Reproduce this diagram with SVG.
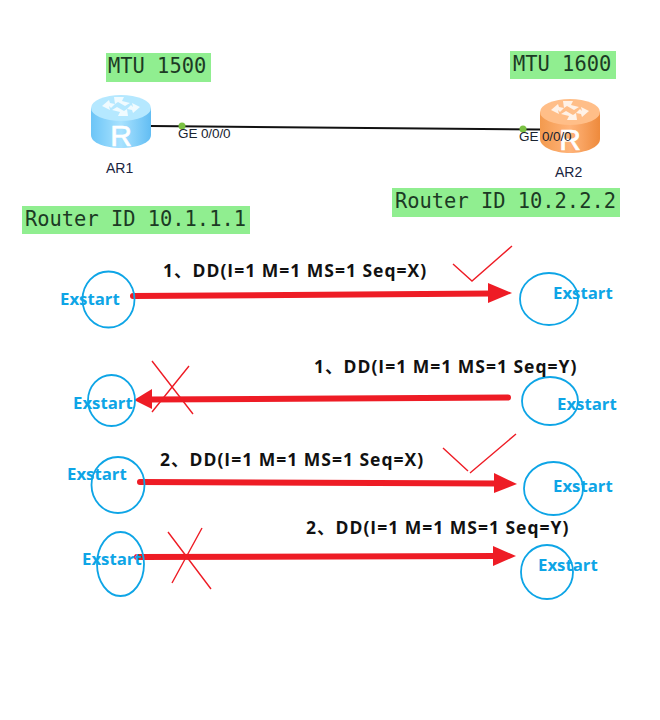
<svg xmlns="http://www.w3.org/2000/svg" width="660" height="720" viewBox="0 0 660 720">
<style>
.mono{font-family:"DejaVu Sans Mono",monospace;font-size:20.4px;fill:#1c3a24}
.tag{fill:#90ee90}
.if{font-family:"Liberation Sans",Arial,sans-serif;font-size:13.5px;letter-spacing:-.1px;fill:#1a2430}
.name{font-family:"Liberation Sans",Arial,sans-serif;font-size:14px;fill:#1a2440}
.dd{font-family:"Open Sans","Noto Sans CJK SC",sans-serif;font-weight:700;font-size:17.5px;letter-spacing:1px;fill:#111}
.st{font-family:"Open Sans","Noto Sans",sans-serif;font-weight:700;font-size:16.8px;fill:#0ea5e6}
.ring{fill:none;stroke:#0ea5e6;stroke-width:1.8}
.arrow{fill:none;stroke:#ee1c25;stroke-width:6;stroke-linecap:round}
.head{fill:#ee1c25}
.mark{fill:none;stroke:#ee1c25;stroke-width:1.4}
.r{font-family:"Liberation Sans",Arial,sans-serif;font-size:30px;fill:#fff;stroke:#fff;stroke-width:.7;text-anchor:middle}
.ico{fill:#fff;opacity:.8}
</style>
<defs>
<linearGradient id="blue" x1="0" x2="1" y1="0" y2="0"><stop offset="0" stop-color="#6cc5f7"/><stop offset=".5" stop-color="#a8e2ff"/><stop offset="1" stop-color="#62bdf3"/></linearGradient>
<linearGradient id="orange" x1="0" x2="1" y1="0" y2="0"><stop offset="0" stop-color="#f39a4e"/><stop offset=".5" stop-color="#ffb47a"/><stop offset="1" stop-color="#ee8a3c"/></linearGradient>
<g id="ico"><path class="ico" d="M-7-16L3-16L1-12L9-10L4-7L-3-11L-6-9ZM7 3L-3 3L-1-1L-9-3L-4-6L3-2L6-4Z"/><path class="ico" d="M-19-7L-12-13L-11-10L-6-9L-10-5L-12-7L-11-3ZM19-6L12 0L11-3L6-4L10-8L12-6L11-10Z"/></g>
</defs>
<g id="links">
<path d="M151 126L540 129.5" fill="none" stroke="#111" stroke-width="2"/>
<path class="arrow" d="M133 296L492 293.5"/><path class="head" d="M512 293L488 283L488 303Z"/>
<path class="arrow" d="M508 397.5L150 399.5"/><path class="head" d="M134 400L152 389L152 409Z"/>
<path class="arrow" d="M140 482L498 483.5"/><path class="head" d="M517 484L494 473L494 493Z"/>
<path class="arrow" d="M137 557L497 556"/><path class="head" d="M516 556L493 546L493 566Z"/>
</g>
<g id="mtu1"><rect class="tag" x="106" y="53" width="105" height="29"/><text class="mono" x="108" y="73">MTU 1500</text></g>
<g id="mtu2"><rect class="tag" x="510" y="51" width="106" height="28"/><text class="mono" x="513" y="71">MTU 1600</text></g>
<g id="rid1"><rect class="tag" x="22" y="206" width="228" height="28"/><text class="mono" x="25" y="226">Router ID 10.1.1.1</text></g>
<g id="rid2"><rect class="tag" x="392" y="188" width="228" height="29"/><text class="mono" x="395" y="208">Router ID 10.2.2.2</text></g>
<g id="AR1">
<path d="M91 108V135C91 143 105 148 121 148S151 143 151 135V108Z" fill="url(#blue)"/>
<ellipse cx="121" cy="108" rx="30" ry="13" fill="#b5e8ff"/>
<use href="#ico" x="121" y="113"/>
<text class="r" x="121" y="146">R</text>
<text class="name" x="106" y="173">AR1</text>
</g>
<g id="AR2">
<path d="M540 112V139C540 147 554 153 570 153S600 147 600 139V112Z" fill="url(#orange)"/>
<ellipse cx="570" cy="112" rx="30" ry="13" fill="#ffbe88"/>
<use href="#ico" x="570" y="117"/>
<text class="r" x="570" y="150">R</text>
<text class="name" x="555" y="177">AR2</text>
</g>
<g id="port1"><circle cx="182" cy="126" r="3.5" fill="#7ac143"/><text class="if" x="178" y="138">GE 0/0/0</text></g>
<g id="port2"><circle cx="523" cy="129" r="3.5" fill="#7ac143"/><text class="if" x="519" y="141">GE 0/0/0</text></g>
<g id="s1l"><ellipse class="ring" cx="108.5" cy="299.5" rx="26" ry="28"/><text class="st" x="60" y="305">Exstart</text></g>
<g id="s1r"><ellipse class="ring" cx="549" cy="299" rx="29" ry="26"/><text class="st" x="553" y="299">Exstart</text></g>
<g id="s2l"><ellipse class="ring" cx="111.5" cy="400.5" rx="23.5" ry="25.5"/><text class="st" x="73" y="409">Exstart</text></g>
<g id="s2r"><ellipse class="ring" cx="550" cy="401" rx="28" ry="24"/><text class="st" x="557" y="410">Exstart</text></g>
<g id="s3l"><ellipse class="ring" cx="118" cy="485" rx="26.5" ry="28"/><text class="st" x="67" y="480">Exstart</text></g>
<g id="s3r"><ellipse class="ring" cx="553.5" cy="488.5" rx="29.5" ry="26.5"/><text class="st" x="553" y="492">Exstart</text></g>
<g id="s4l"><ellipse class="ring" cx="120.5" cy="564" rx="23.5" ry="32"/><text class="st" x="82" y="565">Exstart</text></g>
<g id="s4r"><ellipse class="ring" cx="547" cy="572" rx="26" ry="27"/><text class="st" x="538" y="571">Exstart</text></g>
<g id="labels">
<text class="dd" x="163" y="277">1、DD(I=1 M=1 MS=1 Seq=X)</text>
<text class="dd" x="314" y="373">1、DD(I=1 M=1 MS=1 Seq=Y)</text>
<text class="dd" x="160" y="466">2、DD(I=1 M=1 MS=1 Seq=X)</text>
<text class="dd" x="306" y="534">2、DD(I=1 M=1 MS=1 Seq=Y)</text>
</g>
<g id="marks">
<path class="mark" d="M453 264L472 281L512 246"/>
<path class="mark" d="M152 361L193 414M189 366L152 412"/>
<path class="mark" d="M443 448L468 471M470 473L516 434"/>
<path class="mark" d="M168 532L211 589M202 528L172 583"/>
</g>
</svg>
